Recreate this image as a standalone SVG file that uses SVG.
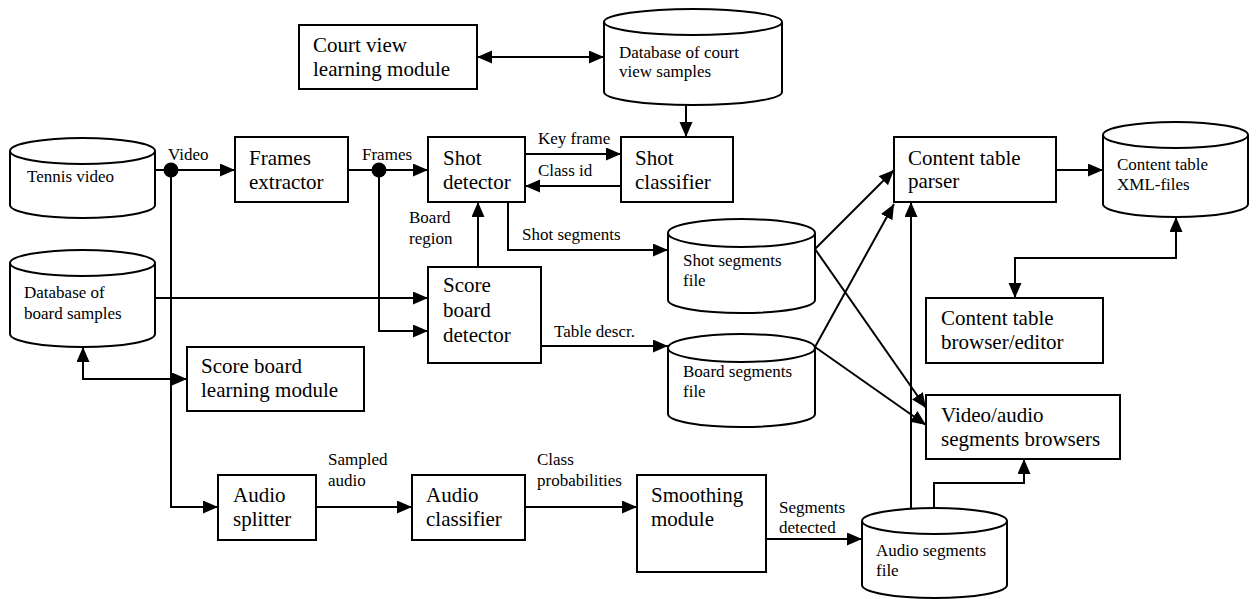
<svg xmlns="http://www.w3.org/2000/svg" width="1256" height="599" viewBox="0 0 1256 599">
<style>
.box{fill:#fff;stroke:#000;stroke-width:2}
.cyl{fill:#fff;stroke:#000;stroke-width:2}
.t{font-family:"Liberation Serif","Times New Roman",serif;font-size:21px;fill:#000}
.s{font-family:"Liberation Serif","Times New Roman",serif;font-size:17px;fill:#000}
.c{fill:none;stroke:#000;stroke-width:2}
.e{marker-end:url(#ah)}
.b{marker-start:url(#ah);marker-end:url(#ah)}
</style>
<defs>
<marker id="ah" markerUnits="userSpaceOnUse" markerWidth="16" markerHeight="14" refX="15" refY="6.5" orient="auto-start-reverse" viewBox="0 0 16 14">
<path d="M0,0 L15,6.5 L0,13 z" fill="#000"/>
</marker>
</defs>
<rect width="1256" height="599" fill="#fff"/>
<g id="connectors">
<path class="c b" d="M477,57 H604"/>
<path class="c e" d="M686,105 V137"/>
<path class="c e" d="M155,170 H235"/>
<path class="c e" d="M348,170 H428"/>
<path class="c e" d="M525,154 H621"/>
<path class="c e" d="M621,186 H525"/>
<path class="c e" d="M171,170 V507 H218"/>
<path class="c e" d="M379,170 V331 H428"/>
<path class="c e" d="M155,298 H428"/>
<path class="c b" d="M83,347 V379 H187"/>
<path class="c e" d="M478,267 V202"/>
<path class="c e" d="M508,202 V250 H668"/>
<path class="c e" d="M541,346 H668"/>
<path class="c e" d="M1056,170 H1103"/>
<path class="c b" d="M1015,298 V258 H1176 V217"/>
<path class="c e" d="M815,249 L894,170"/>
<path class="c e" d="M815,249 L926,408"/>
<path class="c e" d="M815,347 L894,204"/>
<path class="c e" d="M815,347 L926,425"/>
<path class="c e" d="M911,508 V202"/>
<path class="c e" d="M934,509 V483 H1024 V459"/>
<path class="c e" d="M316,507 H412"/>
<path class="c e" d="M525,507 H637"/>
<path class="c e" d="M766,539 H862"/>
<circle cx="171" cy="170" r="7.5" fill="#000"/>
<circle cx="379" cy="170" r="7.5" fill="#000"/>
<text class="s" x="168" y="160">Video</text>
<text class="s" x="362" y="160">Frames</text>
<text class="s" x="538" y="144">Key frame</text>
<text class="s" x="538" y="176">Class id</text>
<text class="s" x="409" y="223">Board</text>
<text class="s" x="409" y="244">region</text>
<text class="s" x="522" y="240">Shot segments</text>
<text class="s" x="554" y="337">Table descr.</text>
<text class="s" x="328" y="465">Sampled</text>
<text class="s" x="328" y="486">audio</text>
<text class="s" x="537" y="465">Class</text>
<text class="s" x="537" y="486">probabilities</text>
<text class="s" x="779" y="513">Segments</text>
<text class="s" x="779" y="533">detected</text>
</g>
<g id="court-view-learning">
<rect class="box" x="299" y="25" width="178" height="64"/>
<text class="t" x="313" y="52">Court view</text>
<text class="t" x="313" y="76">learning module</text>
</g>
<g id="db-court-view">
<path class="cyl" d="M604,22 V92 A89,13 0 0 0 782,92 V22"/>
<ellipse class="cyl" cx="693" cy="22" rx="89" ry="13"/>
<text class="s" x="619" y="58">Database of court</text>
<text class="s" x="619" y="77">view samples</text>
</g>
<g id="tennis-video">
<path class="cyl" d="M10,151 V205 A72.5,13 0 0 0 155,205 V151"/>
<ellipse class="cyl" cx="82.5" cy="151" rx="72.5" ry="13"/>
<text class="s" x="27" y="182">Tennis video</text>
</g>
<g id="frames-extractor">
<rect class="box" x="235" y="137" width="113" height="65"/>
<text class="t" x="249" y="165">Frames</text>
<text class="t" x="249" y="189">extractor</text>
</g>
<g id="shot-detector">
<rect class="box" x="428" y="137" width="97" height="65"/>
<text class="t" x="443" y="165">Shot</text>
<text class="t" x="443" y="189">detector</text>
</g>
<g id="shot-classifier">
<rect class="box" x="621" y="137" width="112" height="65"/>
<text class="t" x="635" y="165">Shot</text>
<text class="t" x="635" y="189">classifier</text>
</g>
<g id="content-table-parser">
<rect class="box" x="894" y="137" width="162" height="65"/>
<text class="t" x="908" y="165">Content table</text>
<text class="t" x="908" y="188">parser</text>
</g>
<g id="xml-files">
<path class="cyl" d="M1103,135 V204 A72.5,13 0 0 0 1248,204 V135"/>
<ellipse class="cyl" cx="1175.5" cy="135" rx="72.5" ry="13"/>
<text class="s" x="1117" y="170">Content table</text>
<text class="s" x="1117" y="190">XML-files</text>
</g>
<g id="db-board-samples">
<path class="cyl" d="M10,263 V334 A72.5,13 0 0 0 155,334 V263"/>
<ellipse class="cyl" cx="82.5" cy="263" rx="72.5" ry="13"/>
<text class="s" x="24" y="298">Database of</text>
<text class="s" x="24" y="319">board samples</text>
</g>
<g id="shot-segments-file">
<path class="cyl" d="M668,233 V300 A73.5,13 0 0 0 815,300 V233"/>
<ellipse class="cyl" cx="741.5" cy="233" rx="73.5" ry="14"/>
<text class="s" x="683" y="266">Shot segments</text>
<text class="s" x="683" y="286">file</text>
</g>
<g id="board-segments-file">
<path class="cyl" d="M668,348 V414 A73.5,13 0 0 0 815,414 V348"/>
<ellipse class="cyl" cx="741.5" cy="348" rx="73.5" ry="14"/>
<text class="s" x="683" y="377">Board segments</text>
<text class="s" x="683" y="397">file</text>
</g>
<g id="score-board-detector">
<rect class="box" x="428" y="267" width="113" height="96"/>
<text class="t" x="443" y="292">Score</text>
<text class="t" x="443" y="317">board</text>
<text class="t" x="443" y="342">detector</text>
</g>
<g id="score-board-learning">
<rect class="box" x="187" y="347" width="177" height="64"/>
<text class="t" x="201" y="373">Score board</text>
<text class="t" x="201" y="397">learning module</text>
</g>
<g id="content-table-browser">
<rect class="box" x="926" y="298" width="177" height="65"/>
<text class="t" x="941" y="325">Content table</text>
<text class="t" x="941" y="349">browser/editor</text>
</g>
<g id="video-audio-browsers">
<rect class="box" x="926" y="395" width="194" height="64"/>
<text class="t" x="941" y="422">Video/audio</text>
<text class="t" x="941" y="446">segments browsers</text>
</g>
<g id="audio-splitter">
<rect class="box" x="218" y="475" width="98" height="65"/>
<text class="t" x="233" y="502">Audio</text>
<text class="t" x="233" y="526">splitter</text>
</g>
<g id="audio-classifier">
<rect class="box" x="412" y="475" width="113" height="65"/>
<text class="t" x="426" y="502">Audio</text>
<text class="t" x="426" y="526">classifier</text>
</g>
<g id="smoothing-module">
<rect class="box" x="637" y="475" width="129" height="97"/>
<text class="t" x="651" y="502">Smoothing</text>
<text class="t" x="651" y="526">module</text>
</g>
<g id="audio-segments-file">
<path class="cyl" d="M862,521 V585 A72.5,13 0 0 0 1007,585 V521"/>
<ellipse class="cyl" cx="934.5" cy="521" rx="72.5" ry="13"/>
<text class="s" x="876" y="556">Audio segments</text>
<text class="s" x="876" y="576">file</text>
</g>
</svg>
